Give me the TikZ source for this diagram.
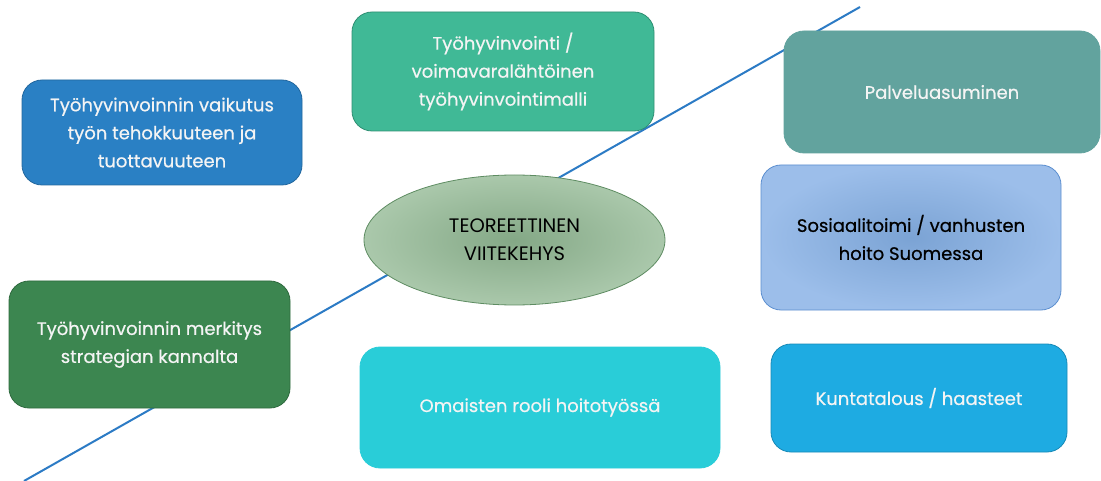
\documentclass[tikz,border=0pt]{standalone}
\usepackage{fontspec}
\setmainfont{Poppins}
\newfontfamily\topicfont{Poppins}[FakeBold=0.6]
\usetikzlibrary{shapes.geometric}
\definecolor{boxblue}{HTML}{2A80C4}
\definecolor{boxblueline}{HTML}{22679E}
\definecolor{boxteal}{HTML}{40B996}
\definecolor{boxtealline}{HTML}{2F8F73}
\definecolor{boxsea}{HTML}{62A39E}
\definecolor{boxgreen}{HTML}{3C8650}
\definecolor{boxgreenline}{HTML}{2E6A3E}
\definecolor{boxcyan}{HTML}{29CDD8}
\definecolor{boxsky}{HTML}{1EABE2}
\definecolor{boxskyline}{HTML}{1789B7}
\definecolor{softin}{HTML}{7BA3D4}
\definecolor{softout}{HTML}{9CBEEA}
\definecolor{softline}{HTML}{5C8FD0}
\definecolor{ovalin}{HTML}{84A886}
\definecolor{ovalout}{HTML}{AAC8AB}
\definecolor{ovalline}{HTML}{5E8C62}
\definecolor{axisline}{HTML}{2C7BC5}
\definecolor{lighttext}{HTML}{F4F4F4}
\tikzset{
  topic/.style={rounded corners=20pt, line width=0.8pt, align=center,
    text=lighttext, font=\topicfont\fontsize{18}{28}\selectfont, inner sep=0pt},
  axis/.style={draw=axisline, line width=2pt}
}
\begin{document}
\begin{tikzpicture}[x=1pt,y=-1pt]
\useasboundingbox (0,0) rectangle (1101,481);
\fill[white] (0,0) rectangle (1101,481);

% diagonal axis behind the topics
\coordinate (lo) at (24,481);
\coordinate (hi) at (860,7);
\draw[axis] (lo) -- (hi);

% topic boxes
\node[topic, fill=boxblue, draw=boxblueline, minimum width=280pt, minimum height=105pt]
  (effect) at (162,132.5) {Työhyvinvoinnin vaikutus\\työn tehokkuuteen ja\\tuottavuuteen};
\node[topic, fill=boxteal, draw=boxtealline, minimum width=302pt, minimum height=119pt]
  (model) at (503,71.5) {Työhyvinvointi /\\voimavaralähtöinen\\työhyvinvointimalli};
\node[topic, fill=boxsea, draw=boxsea, minimum width=316pt, minimum height=122pt]
  (housing) at (942,92) {Palveluasuminen};
\node[topic, shading=radial, inner color=softin, outer color=softout, draw=softline,
  text=black, minimum width=300pt, minimum height=145pt]
  (social) at (911,237.5) {Sosiaalitoimi / vanhusten\\hoito Suomessa};
\node[topic, fill=boxgreen, draw=boxgreenline, minimum width=281pt, minimum height=127pt]
  (strategy) at (149.5,344.5) {Työhyvinvoinnin merkitys\\strategian kannalta};
\node[topic, fill=boxcyan, draw=boxcyan, minimum width=360pt, minimum height=121pt]
  (family) at (540,407.5) {Omaisten rooli hoitotyössä};
\node[topic, fill=boxsky, draw=boxskyline, minimum width=296pt, minimum height=108pt]
  (economy) at (919,398) {Kuntatalous / haasteet};

% central ellipse
\node[ellipse, shading=radial, inner color=ovalin, outer color=ovalout, draw=ovalline,
  line width=0.8pt, minimum width=301pt, minimum height=130pt, inner sep=0pt,
  align=center, font=\fontsize{19.5}{28}\selectfont]
  (frame) at (514.5,240) {TEOREETTINEN\\VIITEKEHYS};
\end{tikzpicture}
\end{document}
